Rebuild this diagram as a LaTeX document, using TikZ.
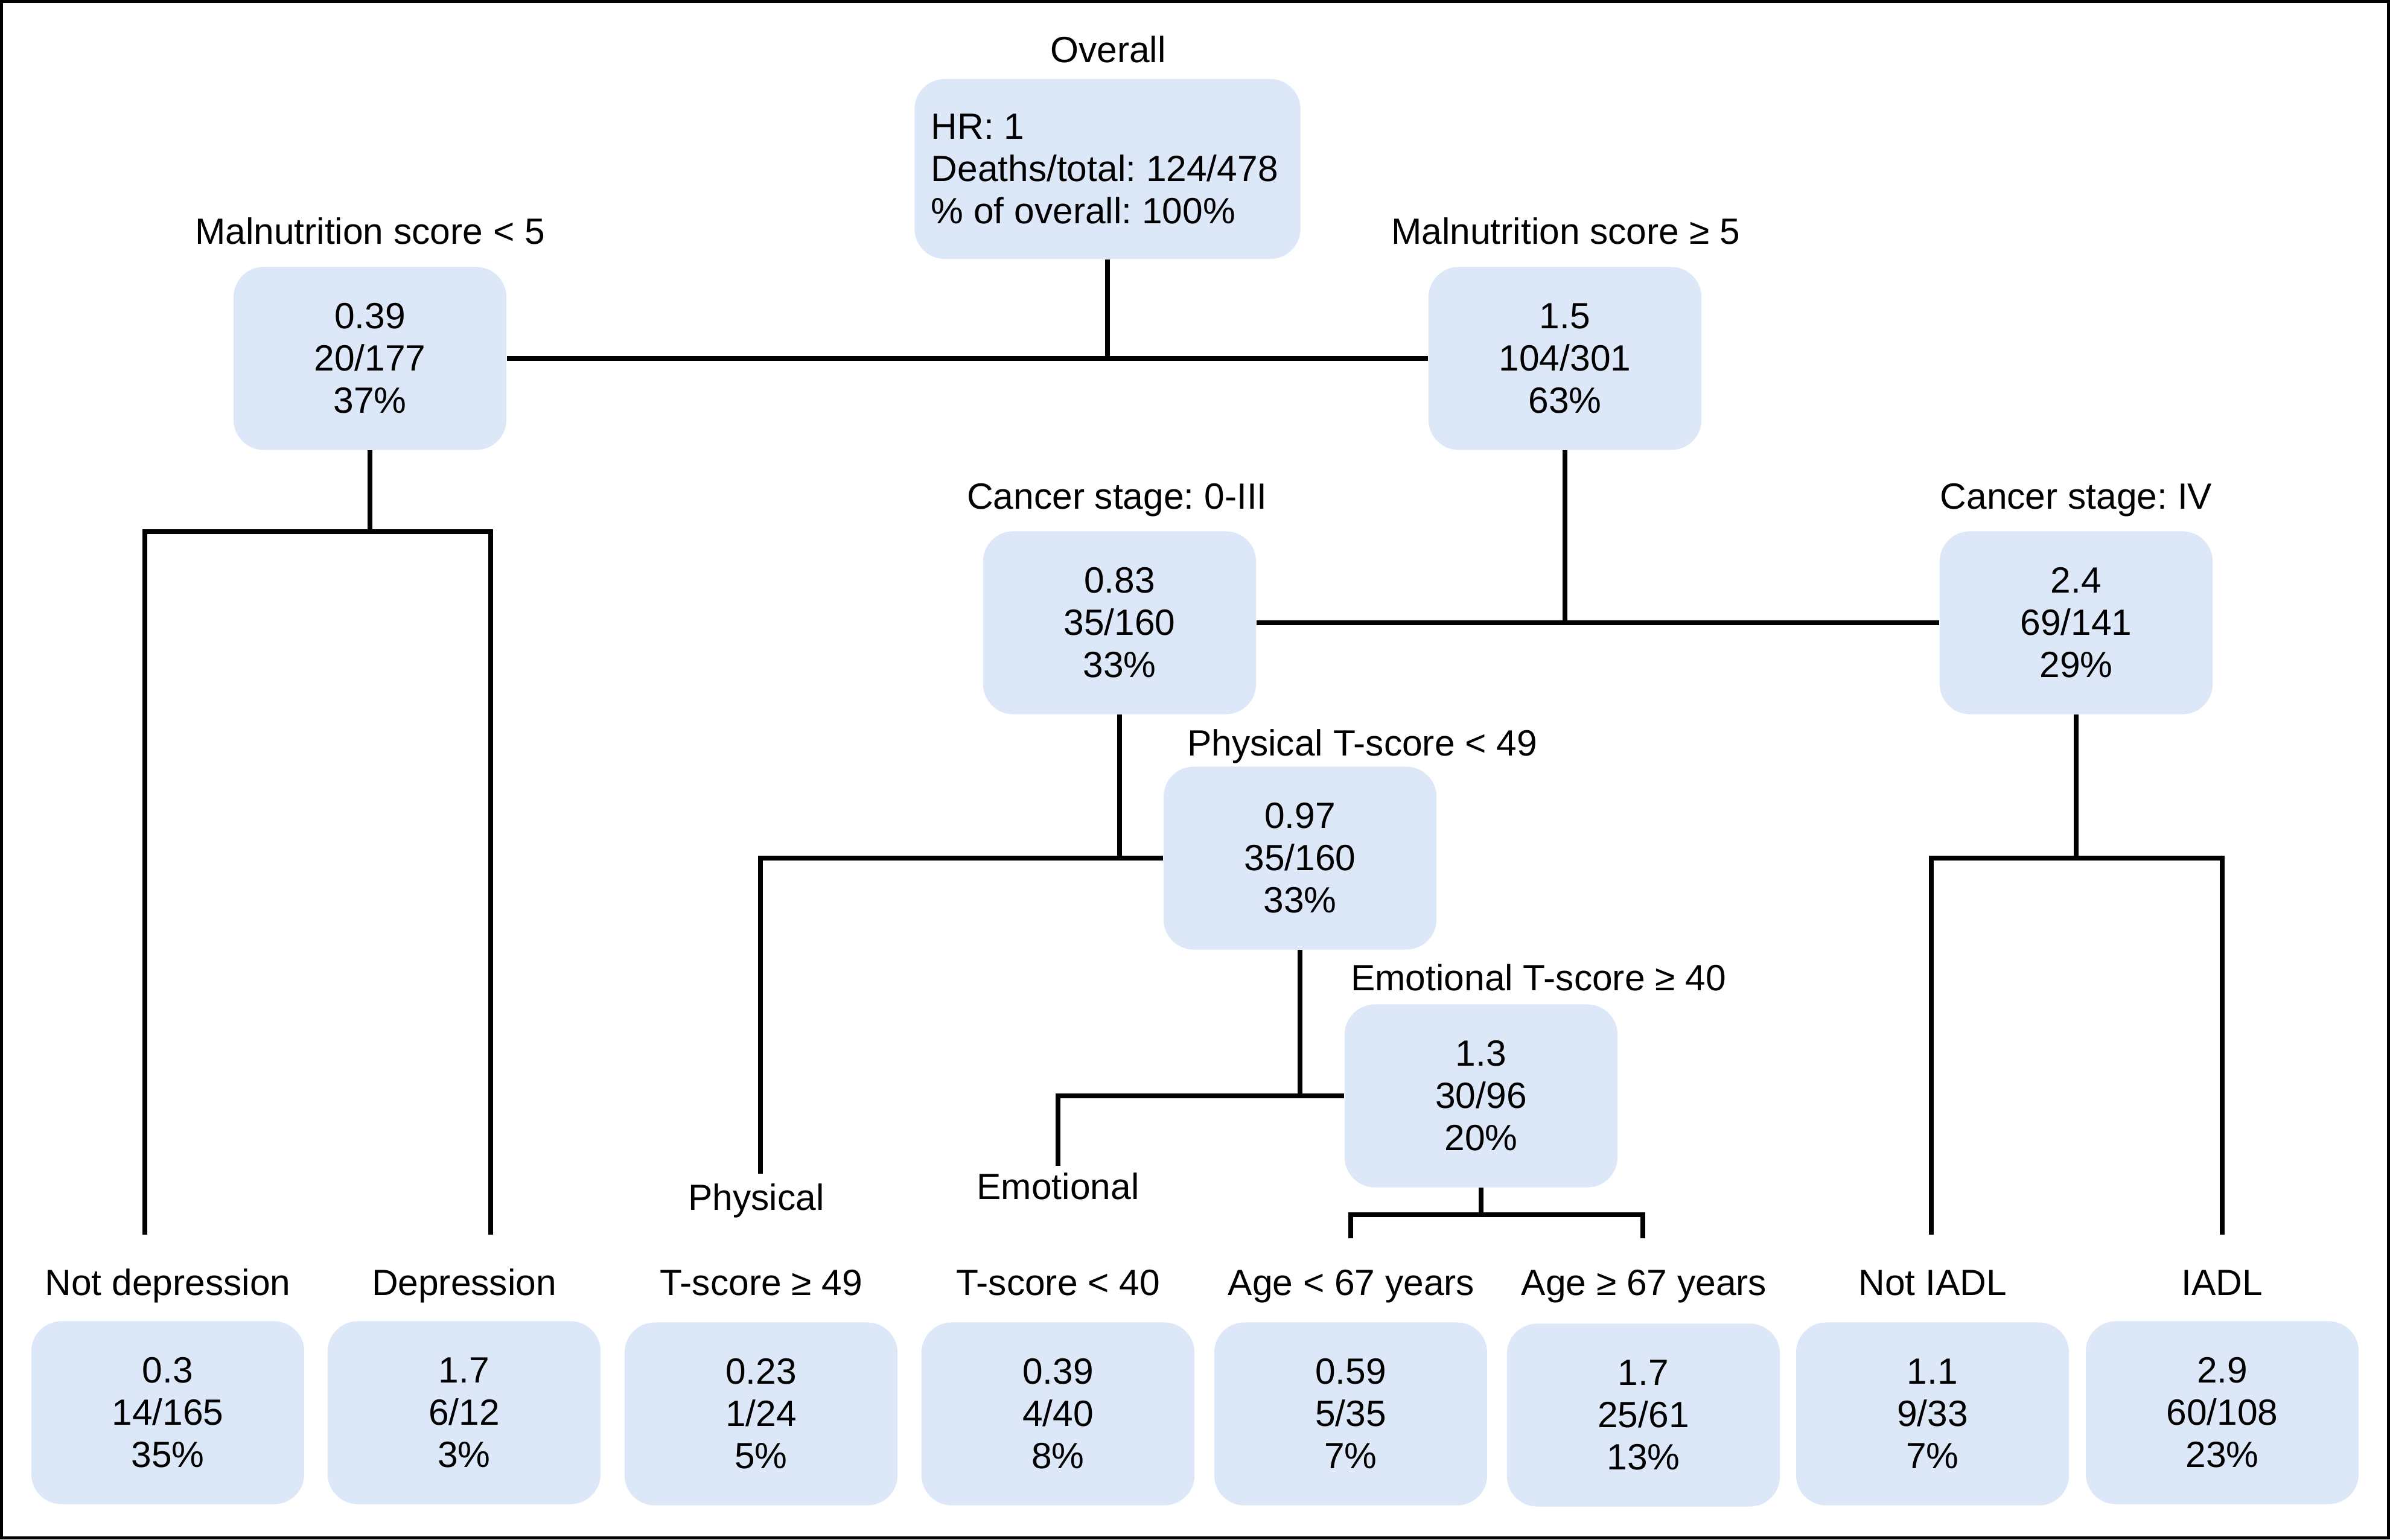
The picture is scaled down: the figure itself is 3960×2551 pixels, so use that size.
\documentclass[tikz,border=0pt]{standalone}
\usepackage{fontspec}
\setmainfont{Liberation Sans}
\frenchspacing
\definecolor{boxblue}{RGB}{220,231,248}
\newcommand{\diafont}{\fontsize{17.2pt}{19.9pt}\selectfont}
\begin{document}
\begin{tikzpicture}[x=0.01cm,y=-0.01cm,
  box/.style={fill=boxblue, rounded corners=0.5cm, minimum width=4.52cm, minimum height=3.03cm, inner sep=0pt, align=center, font=\diafont},
  lbl/.style={anchor=base, inner sep=0pt, font=\diafont},
  conn/.style={line width=0.08cm, line join=miter}]
\useasboundingbox (0,0) rectangle (3960,2551);
\draw[line width=0.05cm] (2.5,2.5) rectangle (3957.5,2548.5);

% boxes
\node[box, minimum width=6.39cm, minimum height=2.98cm] (ov) at (1835,280) {};
\node[anchor=west, align=left, inner sep=0pt, font=\diafont] (ovt) at (1542,280) {HR: 1\\Deaths/total: 124/478\\\% of overall: 100\%};
\node[box] (mal1) at (613,594) {0.39\\20/177\\37\%};
\node[box] (mal2) at (2593,594) {1.5\\104/301\\63\%};
\node[box] (c03) at (1855,1032) {0.83\\35/160\\33\%};
\node[box] (c4) at (3440,1032) {2.4\\69/141\\29\%};
\node[box] (phys) at (2154,1422) {0.97\\35/160\\33\%};
\node[box] (emo) at (2454,1816) {1.3\\30/96\\20\%};
\node[box] (nd) at (278,2341) {0.3\\14/165\\35\%};
\node[box] (dp) at (769,2341) {1.7\\6/12\\3\%};
\node[box] (tp) at (1261,2343) {0.23\\1/24\\5\%};
\node[box] (te) at (1753,2343) {0.39\\4/40\\8\%};
\node[box] (a1) at (2238,2343) {0.59\\5/35\\7\%};
\node[box] (a2) at (2723,2345) {1.7\\25/61\\13\%};
\node[box] (ni) at (3202,2343) {1.1\\9/33\\7\%};
\node[box] (ia) at (3682,2341) {2.9\\60/108\\23\%};

% labels
\node[lbl] (lov) at (1836,103) {Overall};
\node[lbl] (lmal1) at (613,404) {Malnutrition score < 5};
\node[lbl] (lmal2) at (2594,404) {Malnutrition score ≥ 5};
\node[lbl] (lc03) at (1851,843) {Cancer stage: 0-III};
\node[lbl] (lc4) at (3440,843) {Cancer stage: IV};
\node[lbl] (lphys) at (2257,1252) {Physical T-score < 49};
\node[lbl] (lemo) at (2549,1641) {Emotional T-score ≥ 40};
\node[lbl] (lp) at (1253,2005) {Physical};
\node[lbl] (le) at (1753,1987) {Emotional};
\node[lbl] (lnd) at (278,2146) {Not depression};
\node[lbl] (ldp) at (769,2146) {Depression};
\node[lbl] (ltp) at (1261,2146) {T-score ≥ 49};
\node[lbl] (lte) at (1753,2146) {T-score < 40};
\node[lbl] (la1) at (2239,2146) {Age < 67 years};
\node[lbl] (la2) at (2724,2146) {Age ≥ 67 years};
\node[lbl] (lni) at (3202,2146) {Not IADL};
\node[lbl] (lia) at (3682,2146) {IADL};

% junction / free-end coordinates
\coordinate (j1) at (613,881);
\coordinate (ndend) at (240,2046);
\coordinate (dpend) at (813,2046);
\coordinate (pend) at (1260,1945);
\coordinate (eend) at (1753,1932);
\coordinate (j3) at (2454,2013);
\coordinate (a1end) at (2238,2052);
\coordinate (a2end) at (2722,2052);
\coordinate (j4) at (3440,1422);
\coordinate (niend) at (3200,2046);
\coordinate (iaend) at (3682,2046);

% connectors
\draw[conn] (ov.south) -- (ov.south |- mal1.east);
\draw[conn] (mal1.east) -- (mal2.west);
\draw[conn] (mal1.south) -- (j1);
\draw[conn] (ndend) |- (j1) -| (dpend);
\draw[conn] (mal2.south) -- (mal2.south |- c03.east);
\draw[conn] (c03.east) -- (c4.west);
\draw[conn] (c03.south) -- (c03.south |- phys.west);
\draw[conn] (pend) |- (phys.west);
\draw[conn] (phys.south) -- (phys.south |- emo.west);
\draw[conn] (eend) |- (emo.west);
\draw[conn] (emo.south) -- (j3);
\draw[conn] (a1end) |- (j3) -| (a2end);
\draw[conn] (c4.south) -- (j4);
\draw[conn] (niend) |- (j4) -| (iaend);
\end{tikzpicture}
\end{document}
